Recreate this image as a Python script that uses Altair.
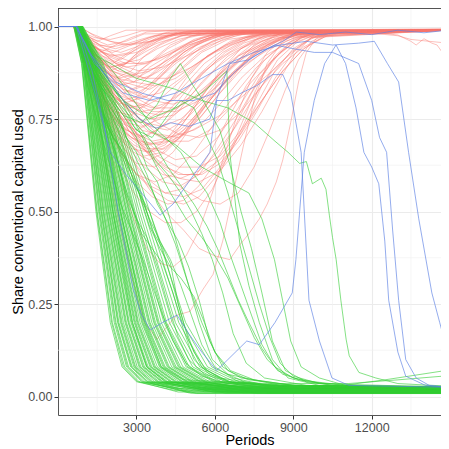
import altair as alt
import pandas as pd

X_END = 14900

# ---- green, fast collapsing lines: period at which each line crosses these shares ----
green_fast_levels = [1.0, 0.9, 0.5, 0.2, 0.08, 0.04]
# [cross 1.0, 0.9, 0.5, 0.2, 0.08, 0.04, tail period, final share]
green_fast = [
    [600, 900, 1450, 2000, 2450, 3000, 4500, .016],
    [620, 920, 1500, 2080, 2550, 3100, 4600, .012],
    [640, 950, 1550, 2150, 2620, 3200, 4800, .020],
    [650, 970, 1600, 2220, 2700, 3300, 5000, .010],
    [660, 990, 1640, 2280, 2780, 3380, 5000, .024],
    [670, 1000, 1680, 2330, 2840, 3450, 5200, .015],
    [680, 1020, 1720, 2390, 2900, 3530, 5300, .019],
    [690, 1040, 1760, 2450, 2970, 3620, 5300, .008],
    [700, 1060, 1800, 2500, 3030, 3700, 5500, .022],
    [700, 1070, 1840, 2560, 3100, 3780, 5600, .013],
    [710, 1090, 1880, 2620, 3170, 3870, 5700, .017],
    [720, 1100, 1920, 2680, 3240, 3950, 5800, .026],
    [730, 1120, 1960, 2730, 3310, 4030, 6000, .011],
    [740, 1140, 2000, 2790, 3380, 4120, 6000, .020],
    [750, 1160, 2040, 2850, 3450, 4200, 6200, .014],
    [760, 1180, 2080, 2910, 3520, 4290, 6300, .023],
    [770, 1200, 2120, 2970, 3590, 4370, 6400, .009],
    [780, 1210, 2160, 3020, 3660, 4460, 6500, .018],
    [790, 1230, 2200, 3080, 3730, 4540, 6600, .027],
    [800, 1250, 2240, 3140, 3800, 4630, 6800, .012],
    [800, 1270, 2280, 3200, 3880, 4720, 6900, .021],
    [810, 1290, 2320, 3260, 3950, 4800, 7000, .016],
    [820, 1300, 2360, 3320, 4020, 4890, 7100, .010],
    [830, 1320, 2400, 3380, 4100, 4980, 7200, .025],
    [840, 1340, 2450, 3450, 4180, 5080, 7300, .014],
    [850, 1360, 2500, 3520, 4260, 5180, 7500, .019],
    [850, 1380, 2550, 3590, 4350, 5280, 7600, .008],
    [860, 1400, 2600, 3660, 4430, 5380, 7700, .022],
    [870, 1420, 2650, 3730, 4520, 5480, 7800, .017],
    [880, 1440, 2700, 3800, 4600, 5580, 8000, .013],
    [880, 1460, 2750, 3870, 4690, 5690, 8100, .024],
    [890, 1480, 2800, 3950, 4780, 5800, 8200, .011],
    [900, 1500, 2870, 4050, 4900, 5950, 8400, .020],
    [900, 1530, 2950, 4150, 5020, 6100, 8600, .015],
    [910, 1560, 3030, 4260, 5150, 6250, 8800, .026],
    [920, 1590, 3110, 4370, 5280, 6400, 9000, .012],
    [930, 1620, 3200, 4490, 5420, 6570, 9200, .018],
    [940, 1650, 3300, 4620, 5570, 6750, 9400, .022],
    [950, 1690, 3400, 4750, 5720, 6930, 9600, .010],
    [960, 1730, 3500, 4880, 5880, 7120, 9800, .016],
    [610, 910, 1480, 2050, 2500, 3050, 4600, .021],
    [645, 960, 1580, 2190, 2660, 3250, 4900, .014],
    [665, 995, 1660, 2300, 2810, 3420, 5100, .009],
    [685, 1030, 1740, 2420, 2940, 3580, 5400, .025],
    [705, 1080, 1860, 2590, 3130, 3820, 5600, .019],
    [725, 1110, 1940, 2700, 3270, 3990, 5900, .013],
    [745, 1150, 2020, 2820, 3410, 4160, 6100, .028],
    [765, 1190, 2100, 2940, 3550, 4330, 6300, .016],
    [785, 1220, 2180, 3050, 3690, 4500, 6500, .011],
    [805, 1280, 2300, 3230, 3910, 4760, 6900, .024],
    [825, 1310, 2380, 3350, 4060, 4940, 7100, .018],
    [845, 1350, 2480, 3490, 4220, 5130, 7400, .013],
    [865, 1410, 2620, 3690, 4470, 5430, 7700, .020],
    [885, 1450, 2720, 3830, 4640, 5630, 8000, .009],
    [905, 1520, 2910, 4100, 4960, 6020, 8500, .023],
]

# ---- green, slower individual lines: (period, share) ----
green_slow = [
    [(0,1),(700,1),(1200,.9),(1800,.8),(2300,.72),(2700,.62),(3100,.55),(3500,.5),(3900,.42),(4300,.36),(4600,.25),(5000,.15),(5500,.08),(6200,.05),(8000,.03),(14900,.025)],
    [(0,1),(750,1),(1300,.88),(1900,.82),(2500,.76),(3000,.7),(3400,.62),(3800,.58),(4200,.5),(4600,.4),(5000,.3),(5400,.2),(5900,.1),(6500,.06),(8500,.03),(14900,.02)],
    [(0,1),(700,1),(1500,.85),(2500,.76),(3200,.74),(3800,.79),(4300,.86),(4680,.9),(5170,.84),(5550,.8),(6190,.72),(6600,.62),(7000,.5),(7400,.4),(7800,.28),(8200,.15),(8700,.07),(9500,.04),(11000,.025),(14900,.02)],
    [(0,1),(700,1),(1500,.88),(2500,.8),(3500,.75),(4500,.78),(5500,.82),(6000,.85),(6460,.88),(6570,.66),(6960,.41),(7300,.3),(7700,.2),(8200,.1),(8800,.05),(10000,.03),(14900,.02)],
    [(0,1),(700,1),(1500,.92),(3000,.86),(4500,.83),(5500,.8),(6500,.78),(7500,.74),(8300,.69),(8800,.66),(9240,.63),(9500,.635),(9730,.575),(10070,.59),(10250,.56),(10380,.49),(10500,.43),(10640,.37),(10820,.26),(11020,.155),(11140,.11),(11510,.065),(12160,.05),(13000,.035),(14900,.028)],
    [(0,1),(800,1),(1500,.9),(2500,.8),(3500,.72),(4500,.68),(5500,.62),(6500,.58),(7300,.55),(7800,.48),(8280,.37),(8590,.26),(8900,.15),(9300,.08),(10000,.05),(11000,.03),(14900,.025)],
    [(0,1),(700,1),(1200,.9),(1700,.83),(2200,.78),(2600,.7),(3000,.66),(3400,.6),(3800,.52),(4200,.47),(4600,.42),(5000,.35),(5400,.26),(5800,.15),(6300,.08),(7000,.05),(9000,.03),(14900,.022)],
    [(0,1),(650,1),(1100,.88),(1600,.78),(2100,.7),(2500,.66),(2900,.6),(3300,.52),(3600,.45),(4000,.4),(4400,.3),(4800,.2),(5200,.12),(5700,.07),(6500,.04),(8500,.025),(14900,.02)],
    [(0,1),(700,1),(1300,.92),(1900,.86),(2400,.8),(2900,.73),(3300,.7),(3700,.64),(4200,.6),(4700,.55),(5100,.5),(5500,.44),(5900,.37),(6300,.28),(6700,.17),(7200,.09),(7900,.05),(9500,.03),(14900,.022)],
    [(0,1),(750,1),(1300,.85),(1800,.74),(2300,.68),(2700,.6),(3100,.55),(3500,.46),(3900,.4),(4300,.35),(4700,.32),(5200,.27),(5600,.2),(6000,.12),(6500,.07),(7300,.045),(9000,.03),(14900,.025)],
    [(0,1),(700,1),(1200,.88),(1700,.78),(2100,.68),(2500,.58),(2900,.5),(3200,.44),(3600,.4),(4000,.36),(4400,.28),(4800,.18),(5200,.1),(5800,.06),(6800,.035),(14900,.02)],
    [(0,1),(800,1),(1400,.9),(2000,.82),(2600,.77),(3200,.72),(3700,.68),(4200,.62),(4700,.57),(5200,.52),(5700,.46),(6100,.4),(6500,.33),(6900,.26),(7300,.2),(7800,.13),(8400,.07),(9200,.045),(11000,.03),(14900,.025)],
    [(0,1),(700,1),(1200,.86),(1700,.75),(2200,.66),(2600,.55),(3000,.48),(3400,.43),(3800,.35),(4200,.25),(4600,.16),(5000,.1),(5600,.06),(6500,.04),(8000,.03),(14900,.025)],
    [(0,1),(650,1),(1100,.85),(1600,.72),(2000,.62),(2400,.52),(2800,.45),(3200,.38),(3600,.3),(4000,.22),(4400,.15),(4900,.09),(5500,.055),(6500,.035),(14900,.02)],
    [(0,1),(800,1),(1500,.93),(2200,.87),(2900,.8),(3500,.74),(4100,.7),(4700,.66),(5200,.6),(5700,.55),(6200,.47),(6600,.38),(7000,.3),(7400,.22),(7800,.14),(8300,.08),(9000,.05),(10500,.03),(14900,.025)],
    [(0,1),(750,1),(1300,.9),(1900,.8),(2500,.72),(3000,.64),(3500,.57),(4000,.5),(4500,.41),(5000,.3),(5500,.2),(6000,.12),(6600,.07),(7500,.045),(9000,.03),(14900,.02)],
    [(0,1),(700,1),(1300,.91),(1900,.85),(2500,.8),(3100,.72),(3700,.63),(4300,.55),(4900,.48),(5500,.43),(6000,.38),(6500,.32),(7000,.24),(7500,.16),(8000,.1),(8600,.06),(9500,.04),(11000,.03),(14900,.02)],
    [(0,1),(700,1),(1200,.87),(1700,.77),(2200,.7),(2700,.62),(3100,.55),(3500,.48),(3900,.42),(4300,.37),(4700,.3),(5100,.22),(5500,.14),(6000,.08),(6700,.05),(8000,.03),(14900,.022)],
    [(0,1),(750,1),(1400,.88),(2200,.8),(3000,.72),(3600,.7),(4200,.76),(4700,.8),(5200,.78),(5700,.7),(6100,.64),(6500,.55),(6900,.45),(7300,.35),(7700,.25),(8100,.16),(8500,.09),(9000,.055),(10000,.035),(14900,.025)],
    [(0,1),(800,1),(1250,.9),(2100,.5),(2850,.2),(3400,.08),(4100,.04),(6000,.03),(10700,.028),(12500,.045),(14900,.071)],
    [(0,1),(900,1),(1400,.9),(2400,.5),(3300,.2),(3950,.08),(4800,.045),(8000,.035),(11100,.035),(13000,.045),(14900,.056)],
]

# ---- red lines: dip and recover ----
red_lines = [
    [(0,1),(600,1),(1000,.97),(1600,.93),(2200,.95),(2800,.97),(3400,.985),(4500,.99),(14900,.99)],
    [(0,1),(650,1),(1100,.95),(1700,.9),(2300,.88),(2900,.92),(3500,.95),(4200,.975),(5000,.988),(14900,.992)],
    [(0,1),(700,1),(1200,.94),(1800,.88),(2400,.85),(3000,.87),(3600,.91),(4300,.95),(5100,.975),(6000,.988),(14900,.99)],
    [(0,1),(600,1),(1000,.98),(1500,.96),(2000,.975),(2600,.99),(14900,.993)],
    [(0,1),(700,1),(1300,.93),(2000,.89),(2600,.9),(3200,.93),(3800,.96),(4600,.98),(14900,.99)],
    [(0,1),(650,1),(1200,.92),(1800,.86),(2500,.82),(3100,.84),(3700,.88),(4400,.93),(5200,.965),(6200,.985),(14900,.99)],
    [(0,1),(700,1),(1100,.96),(1700,.93),(2400,.91),(3000,.94),(3800,.97),(4600,.985),(14900,.991)],
    [(0,1),(600,1),(1100,.95),(1600,.91),(2100,.9),(2700,.93),(3300,.96),(4000,.98),(14900,.99)],
    [(0,1),(750,1),(1300,.94),(2000,.9),(2700,.87),(3400,.86),(4100,.89),(4800,.93),(5600,.96),(6500,.98),(7500,.988),(14900,.99)],
    [(0,1),(700,1),(1200,.97),(1900,.95),(2600,.96),(3300,.98),(14900,.992)],
    [(0,1),(650,1),(1150,.93),(1700,.87),(2300,.84),(2900,.85),(3500,.89),(4200,.92),(5000,.955),(5800,.975),(6800,.987),(14900,.99)],
    [(0,1),(700,1),(1300,.95),(2000,.92),(2800,.93),(3600,.96),(4500,.98),(14900,.99)],
    [(0,1),(600,1),(1000,.96),(1500,.92),(2000,.88),(2600,.9),(3200,.94),(3900,.97),(4800,.985),(14900,.99)],
    [(0,1),(750,1),(1400,.96),(2200,.92),(3000,.9),(3800,.91),(4600,.94),(5500,.97),(6500,.985),(14900,.99)],
    [(0,1),(700,1),(1200,.91),(1800,.84),(2400,.8),(3000,.81),(3600,.85),(4300,.9),(5000,.94),(5900,.97),(7000,.985),(14900,.99)],
    [(0,1),(800,1),(1500,.97),(2500,.95),(3500,.96),(4500,.98),(14900,.993)],
    [(0,1),(650,1),(1100,.94),(1600,.89),(2200,.86),(2800,.88),(3300,.92),(3900,.95),(4700,.975),(14900,.99)],
    [(0,1),(700,1),(1300,.92),(2100,.86),(2900,.83),(3700,.85),(4500,.9),(5300,.94),(6200,.97),(7200,.985),(14900,.99)],
    [(0,1),(600,1),(900,.985),(1400,.97),(2000,.965),(2600,.975),(3200,.988),(14900,.993)],
    [(0,1),(700,1),(1200,.96),(1800,.94),(2400,.93),(3000,.945),(3700,.965),(4500,.98),(5500,.99),(14900,.991)],
    [(0,1),(650,1),(1050,.95),(1500,.9),(2000,.86),(2500,.83),(3000,.82),(3500,.84),(4100,.88),(4800,.93),(5600,.965),(6500,.985),(14900,.99)],
    [(0,1),(800,1),(1300,.98),(2000,.96),(2800,.95),(3600,.96),(4400,.975),(5300,.987),(14900,.992)],
    [(0,1),(700,1),(1150,.93),(1700,.88),(2300,.86),(2900,.87),(3500,.9),(4200,.94),(5000,.97),(6000,.985),(14900,.99)],
    [(0,1),(600,1),(1000,.97),(1500,.94),(2100,.93),(2800,.95),(3500,.97),(4300,.985),(14900,.99)],
    [(0,1),(750,1),(1400,.95),(2200,.9),(3100,.88),(4000,.89),(4900,.92),(5800,.95),(6800,.975),(7900,.988),(14900,.99)],
    [(0,1),(650,1),(1100,.96),(1700,.92),(2400,.9),(3100,.91),(3800,.94),(4600,.965),(5500,.98),(14900,.99)],
    [(0,1),(700,1),(1200,.95),(1900,.91),(2600,.89),(3400,.9),(4200,.93),(5100,.96),(6100,.98),(14900,.99)],
    [(0,1),(600,1),(1100,.92),(1600,.86),(2200,.82),(2800,.8),(3400,.81),(4000,.85),(4700,.9),(5500,.945),(6400,.972),(7500,.987),(14900,.99)],
    [(0,1),(800,1),(1500,.94),(2400,.89),(3300,.86),(4200,.86),(5100,.89),(6000,.93),(7000,.96),(8100,.98),(14900,.99)],
    [(0,1),(700,1),(1100,.97),(1600,.95),(2200,.94),(2900,.955),(3700,.975),(14900,.99)],
    [(0,1),(650,1),(1200,.9),(1800,.8),(2400,.74),(3000,.72),(3600,.74),(4200,.79),(4900,.86),(5700,.92),(6600,.96),(7600,.982),(14900,.99)],
    [(0,1),(700,1),(1300,.88),(2000,.78),(2700,.7),(3400,.66),(4100,.68),(4800,.74),(5600,.82),(6500,.9),(7400,.95),(8400,.978),(9500,.988),(14900,.99)],
    [(0,1),(650,1),(1100,.9),(1600,.82),(2200,.77),(2800,.76),(3500,.8),(4200,.86),(5000,.92),(5900,.96),(7000,.983),(14900,.99)],
    [(0,1),(700,1),(1200,.87),(1800,.76),(2400,.68),(3000,.63),(3700,.62),(4400,.66),(5100,.73),(5900,.81),(6800,.88),(7700,.94),(8600,.97),(9600,.985),(14900,.99)],
    [(0,1),(600,1),(1100,.91),(1700,.83),(2300,.79),(2900,.8),(3600,.84),(4400,.9),(5300,.95),(6300,.978),(14900,.99)],
    [(0,1),(750,1),(1400,.9),(2100,.82),(2800,.77),(3500,.73),(4200,.72),(4900,.75),(5600,.8),(6400,.87),(7300,.93),(8300,.968),(9300,.985),(14900,.99)],
    [(0,1),(700,1),(1200,.89),(1900,.79),(2600,.72),(3300,.7),(4000,.73),(4700,.79),(5500,.87),(6400,.93),(7400,.97),(8500,.987),(14900,.99)],
    [(0,1),(650,1),(1200,.86),(1800,.74),(2400,.66),(3000,.6),(3700,.58),(4400,.6),(5200,.66),(6000,.74),(6800,.82),(7600,.89),(8400,.94),(9300,.972),(10300,.986),(14900,.99)],
    [(0,1),(700,1),(1300,.92),(2000,.85),(2800,.8),(3600,.78),(4400,.8),(5200,.85),(6100,.91),(7100,.955),(8200,.98),(14900,.99)],
    [(0,1),(700,1),(1250,.88),(1900,.77),(2600,.69),(3300,.65),(4000,.66),(4800,.71),(5700,.79),(6600,.87),(7500,.93),(8500,.965),(9500,.984),(14900,.99)],
    [(0,1),(650,1),(1150,.89),(1750,.79),(2400,.73),(3100,.7),(3800,.72),(4600,.77),(5500,.85),(6500,.92),(7600,.965),(8800,.985),(14900,.99)],
    [(0,1),(750,1),(1400,.91),(2200,.83),(3000,.76),(3800,.71),(4600,.7),(5400,.73),(6200,.79),(7000,.86),(7900,.92),(8900,.96),(9900,.983),(14900,.99)],
    [(0,1),(700,1),(1200,.9),(1800,.81),(2500,.75),(3200,.74),(3900,.77),(4700,.83),(5600,.9),(6600,.95),(7800,.98),(14900,.99)],
    [(0,1),(600,1),(1000,.9),(1600,.8),(2200,.72),(2800,.67),(3500,.66),(4200,.7),(5000,.77),(5900,.85),(6900,.92),(8000,.96),(9200,.984),(14900,.99)],
    [(0,1),(700,1),(1300,.9),(2100,.8),(2900,.72),(3700,.67),(4500,.64),(5300,.65),(6100,.7),(6900,.78),(7700,.87),(8500,.93),(9300,.97),(10200,.986),(14900,.99)],
    [(0,1),(650,1),(1200,.88),(1900,.78),(2600,.71),(3300,.68),(4000,.69),(4700,.73),(5400,.8),(6200,.88),(7000,.94),(7900,.975),(14900,.99)],
    [(0,1),(700,1),(1250,.9),(2000,.82),(2800,.77),(3600,.75),(4400,.76),(5200,.8),(6000,.86),(6900,.92),(7800,.96),(8800,.983),(14900,.99)],
    [(0,1),(750,1),(1400,.88),(2200,.78),(3000,.7),(3800,.63),(4600,.59),(5400,.58),(6200,.61),(7000,.68),(7800,.77),(8500,.86),(9100,.93),(9700,.97),(10500,.987),(14900,.99)],
    [(0,1),(650,1),(1150,.9),(1800,.83),(2500,.79),(3200,.78),(4000,.81),(4800,.86),(5700,.92),(6700,.96),(7800,.983),(14900,.99)],
    [(0,1),(700,1),(1300,.91),(2000,.84),(2800,.8),(3600,.77),(4500,.77),(5400,.8),(6300,.85),(7200,.9),(8100,.94),(9000,.968),(10000,.985),(14900,.99)],
    [(0,1),(700,1),(1200,.88),(1800,.75),(2400,.65),(3000,.58),(3600,.54),(4200,.52),(4800,.53),(5400,.57),(6000,.63),(6700,.72),(7400,.82),(8100,.9),(8800,.95),(9600,.978),(10500,.988),(14900,.99)],
    [(0,1),(700,1),(1300,.89),(2000,.76),(2700,.66),(3400,.57),(4100,.5),(4800,.45),(5400,.4),(6000,.38),(6570,.37),(6960,.41),(7300,.44),(7700,.48),(8000,.52),(8350,.58),(8600,.64),(8900,.74),(9200,.85),(9500,.93),(9900,.97),(10500,.985),(14900,.99)],
    [(0,1),(650,1),(1100,.86),(1600,.7),(2100,.55),(2500,.42),(2880,.31),(3300,.2),(3790,.155),(4300,.2),(4550,.22),(5050,.23),(5550,.29),(5930,.33),(6300,.42),(6700,.55),(7100,.68),(7500,.8),(8000,.9),(8600,.96),(9300,.985),(14900,.99)],
    [(0,1),(700,1),(1300,.9),(2000,.8),(2700,.72),(3400,.66),(4100,.6),(4800,.56),(5500,.53),(6200,.52),(6900,.55),(7500,.62),(8100,.72),(8700,.83),(9200,.91),(9700,.96),(10400,.983),(14900,.99)],
    [(0,1),(650,1),(1100,.87),(1700,.74),(2300,.63),(2900,.55),(3500,.5),(4100,.47),(4700,.47),(5300,.5),(5900,.56),(6500,.65),(7100,.75),(7700,.85),(8300,.92),(9000,.965),(9800,.985),(14900,.99)],
    [(0,1),(700,1),(1200,.85),(1800,.7),(2400,.58),(2900,.48),(3400,.4),(3900,.36),(4400,.35),(4900,.38),(5400,.45),(5900,.55),(6400,.66),(6900,.77),(7400,.86),(8000,.93),(8700,.97),(9500,.987),(14900,.99)],
    [(0,1),(750,1),(1400,.9),(2200,.8),(3000,.71),(3800,.64),(4600,.6),(5400,.6),(6200,.64),(7000,.71),(7800,.8),(8600,.88),(9400,.94),(10200,.975),(11000,.988),(14900,.99)],
    [(0,1),(650,1),(1200,.93),(2000,.88),(3000,.86),(4000,.9),(5000,.95),(6000,.975),(8000,.985),(12000,.985),(13000,.977),(13500,.96),(13700,.95),(14000,.967),(14300,.955),(14500,.95),(14700,.93),(14900,.86)],
    [(0,1),(700,1),(1500,.92),(2500,.85),(3500,.83),(4500,.87),(5500,.93),(6500,.965),(8000,.98),(12000,.982),(13000,.975),(13500,.965),(14200,.96),(14900,.955)],
    [(0,1),(700,1),(1300,.9),(2200,.8),(3200,.72),(4200,.7),(5200,.72),(6200,.76),(7200,.82),(8200,.88),(8800,.92),(9300,.95),(9700,.967),(10200,.985),(14900,.99)],
    [(0,1),(650,1),(1100,.9),(1700,.78),(2300,.7),(2900,.66),(3500,.64),(4100,.66),(4800,.71),(5600,.79),(6500,.88),(7500,.95),(8500,.98),(14900,.99)],
    [(0,1),(700,1),(1200,.88),(1900,.76),(2600,.68),(3300,.62),(4000,.58),(4700,.57),(5400,.6),(6100,.67),(6900,.76),(7700,.86),(8500,.93),(9300,.97),(14900,.99)],
    [(0,1),(600,1),(1000,.93),(1500,.86),(2100,.81),(2700,.78),(3300,.79),(3900,.83),(4600,.88),(5400,.93),(6300,.965),(7400,.985),(14900,.99)],
    [(0,1),(700,1),(1300,.86),(2000,.74),(2700,.65),(3400,.59),(4100,.55),(4800,.54),(5500,.56),(6200,.62),(6900,.7),(7600,.79),(8300,.88),(9000,.94),(9800,.975),(14900,.99)],
    [(0,1),(650,1),(1150,.92),(1800,.85),(2500,.8),(3200,.77),(3900,.76),(4600,.78),(5300,.83),(6100,.89),(7000,.94),(8000,.972),(9000,.986),(14900,.99)],
    [(0,1),(700,1),(1200,.9),(1800,.81),(2400,.75),(3000,.71),(3600,.69),(4300,.7),(5000,.74),(5800,.8),(6600,.87),(7500,.93),(8500,.97),(14900,.99)],
    [(0,1),(750,1),(1300,.94),(2000,.88),(2800,.83),(3600,.8),(4400,.79),(5200,.81),(6000,.86),(6900,.91),(7800,.95),(8800,.978),(14900,.99)],
    [(0,1),(600,1),(1050,.91),(1600,.82),(2200,.75),(2800,.7),(3400,.67),(4000,.67),(4700,.7),(5500,.76),(6300,.83),(7100,.9),(8000,.95),(9000,.978),(14900,.99)],
    [(0,1),(700,1),(1250,.89),(1900,.78),(2600,.7),(3300,.64),(4000,.6),(4700,.59),(5400,.61),(6100,.66),(6800,.73),(7500,.81),(8200,.88),(8900,.93),(9600,.965),(10500,.985),(14900,.99)],
    [(0,1),(650,1),(1100,.95),(1700,.91),(2300,.88),(2900,.87),(3500,.88),(4200,.91),(5000,.945),(5900,.97),(6900,.986),(14900,.99)],
    [(0,1),(700,1),(1200,.93),(1800,.87),(2500,.83),(3200,.81),(3900,.82),(4700,.86),(5500,.91),(6400,.95),(7400,.975),(8500,.988),(14900,.99)],
    [(0,1),(650,1),(1150,.88),(1700,.79),(2300,.72),(2900,.68),(3500,.66),(4100,.67),(4800,.72),(5600,.79),(6500,.86),(7400,.92),(8400,.96),(9400,.982),(14900,.99)],
    [(0,1),(750,1),(1400,.92),(2200,.85),(3000,.79),(3800,.74),(4600,.71),(5400,.7),(6200,.72),(7000,.77),(7800,.84),(8600,.9),(9400,.945),(10300,.975),(14900,.99)],
    [(0,1),(600,1),(1000,.95),(1500,.91),(2000,.89),(2600,.9),(3300,.93),(4100,.96),(5000,.98),(14900,.99)],
    [(0,1),(700,1),(1300,.9),(2000,.8),(2700,.72),(3400,.66),(4100,.62),(4800,.6),(5500,.6),(6200,.63),(6900,.69),(7600,.77),(8300,.86),(9000,.93),(9700,.97),(14900,.99)],
    [(0,1),(650,1),(1200,.91),(1800,.84),(2500,.79),(3200,.77),(3900,.78),(4700,.82),(5600,.88),(6600,.93),(7700,.97),(8800,.986),(14900,.99)],
    [(0,1),(700,1),(1200,.87),(1800,.75),(2400,.66),(3000,.6),(3600,.56),(4200,.53),(4800,.52),(5400,.54),(6000,.59),(6600,.66),(7200,.75),(7800,.84),(8400,.91),(9100,.955),(9900,.98),(14900,.99)],
    [(0,1),(600,1),(1100,.94),(1700,.89),(2300,.86),(2900,.85),(3600,.87),(4300,.91),(5100,.95),(6000,.975),(7000,.988),(14900,.99)],
    [(0,1),(750,1),(1300,.91),(2000,.83),(2700,.77),(3400,.72),(4200,.69),(5000,.69),(5800,.72),(6600,.78),(7400,.85),(8200,.91),(9000,.955),(9900,.98),(14900,.99)],
    [(0,1),(700,1),(1150,.96),(1700,.93),(2300,.92),(3000,.93),(3800,.955),(4700,.975),(5700,.988),(14900,.992)],
    [(0,1),(650,1),(1100,.89),(1700,.77),(2300,.68),(2900,.61),(3500,.57),(4100,.55),(4700,.56),(5300,.6),(5900,.67),(6500,.75),(7200,.84),(7900,.91),(8700,.96),(9600,.984),(14900,.99)],
    [(0,1),(700,1),(1300,.93),(2100,.88),(2900,.85),(3700,.84),(4500,.86),(5300,.9),(6200,.94),(7200,.97),(8300,.986),(14900,.99)],
    [(0,1),(600,1),(1000,.92),(1500,.84),(2000,.78),(2600,.74),(3200,.73),(3900,.75),(4600,.8),(5400,.87),(6300,.93),(7300,.97),(8400,.987),(14900,.99)],
    [(0,1),(750,1),(1400,.89),(2200,.79),(3000,.71),(3800,.65),(4600,.62),(5400,.62),(6200,.65),(7000,.72),(7800,.8),(8600,.88),(9400,.94),(10200,.972),(11000,.986),(14900,.99)],
    [(0,1),(650,1),(1100,.97),(1600,.95),(2100,.945),(2700,.955),(3400,.97),(4200,.985),(14900,.992)],
    [(0,1),(700,1),(1200,.92),(1900,.84),(2600,.78),(3300,.74),(4000,.73),(4700,.75),(5500,.8),(6300,.87),(7200,.93),(8200,.97),(9200,.986),(14900,.99)],
    [(0,1),(650,1),(1150,.9),(1800,.8),(2500,.73),(3200,.69),(3900,.68),(4600,.7),(5400,.75),(6200,.82),(7100,.89),(8000,.94),(9000,.975),(14900,.99)],
    [(0,1),(700,1),(1250,.95),(1900,.92),(2600,.9),(3300,.9),(4100,.92),(5000,.95),(6000,.975),(7100,.988),(14900,.99)],
    [(0,1),(600,1),(1050,.9),(1600,.81),(2200,.74),(2800,.7),(3500,.68),(4200,.69),(5000,.73),(5800,.8),(6700,.87),(7600,.93),(8600,.968),(9600,.985),(14900,.99)],
    [(0,1),(750,1),(1350,.93),(2100,.86),(2900,.81),(3700,.78),(4500,.78),(5300,.81),(6100,.86),(7000,.91),(7900,.95),(8900,.978),(14900,.99)],
]

# ---- blue lines ----
blue_lines = [
    [(0,1),(700,1),(1200,.93),(1480,.9),(2000,.85),(2500,.8),(3120,.75),(3750,.725),(4300,.74),(5000,.73),(5810,.75),(6200,.83),(6570,.9),(7300,.91),(8000,.94),(8600,.96),(9120,.985),(10000,.978),(11000,.985),(12000,.978),(13000,.99),(14000,.983),(14900,.99)],
    [(0,1),(750,1),(1300,.88),(1800,.72),(2300,.5),(2880,.29),(3200,.22),(3530,.18),(4000,.2),(4550,.22),(5000,.17),(5500,.12),(6070,.07),(6500,.1),(7220,.15),(7700,.14),(8300,.2),(8960,.28),(9100,.37),(9420,.66),(9800,.8),(10200,.9),(10635,.95),(11000,.9),(11400,.78),(11700,.66),(12000,.62),(12270,.575),(12500,.42),(12650,.26),(13000,.12),(13300,.055),(14060,.03),(14900,.025)],
    [(0,1),(700,1),(1300,.85),(2010,.66),(2600,.6),(3200,.55),(3900,.49),(4400,.52),(5000,.58),(5810,.66),(6070,.8),(6500,.8),(7000,.82),(7600,.84),(8200,.87),(8600,.87),(8900,.82),(9300,.66),(9600,.26),(10000,.15),(10480,.05),(11130,.03),(14900,.025)],
    [(0,1),(700,1),(1300,.92),(2200,.85),(3200,.82),(4200,.8),(5200,.8),(6000,.82),(6800,.88),(7500,.92),(8300,.95),(9000,.94),(9800,.93),(10500,.93),(11500,.9),(12000,.8),(12300,.7),(12570,.66),(12800,.45),(13030,.26),(13300,.1),(13700,.05),(14200,.03),(14900,.025)],
    [(0,1),(700,1),(1400,.9),(2500,.82),(3500,.8),(4500,.82),(5500,.86),(6500,.9),(7500,.93),(8500,.95),(9500,.96),(10500,.95),(11500,.955),(12100,.96),(12600,.9),(13030,.85),(13410,.66),(13800,.48),(14300,.28),(14600,.2),(14900,.12)],
]

x_minor = [1500, 4500, 7500, 10500, 13500]
y_minor = [0.125, 0.375, 0.625, 0.875]
x_ticks = [3000, 6000, 9000, 12000]
y_ticks = [0.0, 0.25, 0.5, 0.75, 1.0]

# ---- build tables ----
def rows_from(lines, prefix):
    out = []
    for i, pts in enumerate(lines):
        for p, v in pts:
            out.append({"line": f"{prefix}{i}", "period": p, "share": v})
    return out

green_rows = []
for i, spec in enumerate(green_fast):
    pts = [(0, 1.0)] + list(zip(spec[:6], green_fast_levels)) + [(spec[6], spec[7]), (X_END, spec[7])]
    for p, v in pts:
        green_rows.append({"line": f"gf{i}", "period": p, "share": v})
green_rows += rows_from(green_slow, "gs")

red_df = pd.DataFrame(rows_from(red_lines, "r"))
green_df = pd.DataFrame(green_rows)
blue_df = pd.DataFrame(rows_from(blue_lines, "b"))

W, H = 383, 407
xs = alt.Scale(domain=[0, 14650], nice=False, zero=False)
ys = alt.Scale(domain=[-0.05, 1.05], nice=False, zero=False)

x_axis = alt.Axis(values=x_ticks, title="Periods", format="d", grid=True)
y_axis = alt.Axis(values=y_ticks, title="Share conventional capital used", format=".2f", grid=True)

def enc(ch):
    return ch.encode(
        x=alt.X("period:Q", scale=xs, axis=x_axis),
        y=alt.Y("share:Q", scale=ys, axis=y_axis),
        detail="line:N",
    )

minor_x = alt.Chart(pd.DataFrame({"period": x_minor})).mark_rule(
    color="#F0F0F0", strokeWidth=0.6
).encode(x=alt.X("period:Q", scale=xs, axis=x_axis))
minor_y = alt.Chart(pd.DataFrame({"share": y_minor})).mark_rule(
    color="#F0F0F0", strokeWidth=0.6
).encode(y=alt.Y("share:Q", scale=ys, axis=y_axis))

red_layer = enc(alt.Chart(red_df).mark_line(color="#F8766D", opacity=0.45, strokeWidth=1, clip=True))
green_layer = enc(alt.Chart(green_df).mark_line(color="#32CD32", opacity=0.6, strokeWidth=1, clip=True))
blue_layer = enc(alt.Chart(blue_df).mark_line(color="#5A80E4", opacity=0.65, strokeWidth=1, clip=True))

top_border = alt.Chart(pd.DataFrame({"a": [0]})).mark_rule(color="#1A1A1A", strokeWidth=1.4).encode(
    x=alt.value(0), x2=alt.value(W), y=alt.value(0)
)

chart = alt.layer(minor_x, minor_y, red_layer, green_layer, blue_layer, top_border).properties(
    width=W, height=H,
    autosize=alt.AutoSizeParams(type="none"),
    padding={"left": 50, "top": 0, "right": 0, "bottom": 34},
).configure_view(stroke=None).configure_axis(
    labelFont="Liberation Sans", titleFont="Liberation Sans",
    labelFontSize=12.5, titleFontSize=14.5, titleFontWeight="normal",
    labelColor="#4D4D4D", titleColor="#000000",
    gridColor="#EBEBEB", gridWidth=1.1,
    domainColor="#555555", domainWidth=1,
    tickColor="#333333", tickSize=4, tickWidth=1,
    labelPadding=2,
).configure_axisX(titlePadding=0).configure_axisY(titlePadding=2)

chart.save("out.html", embed_options={"renderer": "svg", "actions": False})
